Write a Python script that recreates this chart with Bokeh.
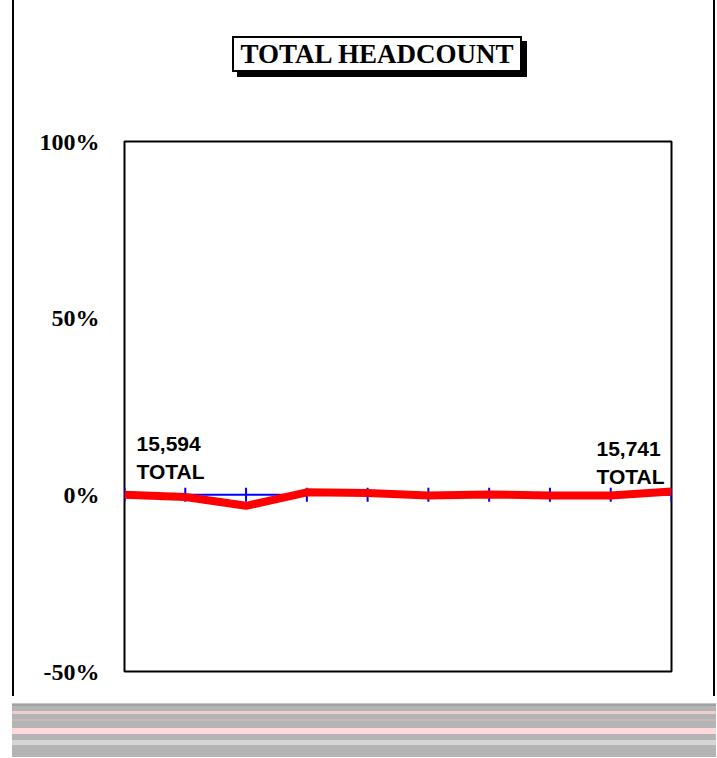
from bokeh.plotting import figure
from bokeh.models import Range1d, FixedTicker, Div
from bokeh.layouts import column
from bokeh.core.properties import value
from bokeh.embed import file_html
from bokeh.resources import INLINE

# ---- data ----
periods = [0, 1, 2, 3, 4, 5, 6, 7, 8, 9]
pct_change = [0.0, -0.6, -3.1, 0.7, 0.5, -0.2, 0.1, -0.2, -0.2, 0.94]
y_ticks = [-50, 0, 50, 100]
y_tick_labels = ["-50%", "0%", "50%", "100%"]
start_label = "15,594\nTOTAL"
end_label = "15,741\nTOTAL"
title_text = "TOTAL HEADCOUNT"

W = 716
TOP_H, FIG_H, BAND_H = 100, 596, 54
FL, FR = 124, 671          # frame left/right (px)
FT, FB = 41, 571           # frame top/bottom inside the figure (px)

SIDE_LINES = ("linear-gradient(to right, transparent 12px, black 12px, black 14px, "
              "transparent 14px, transparent 713px, black 713px, black 715px, transparent 715px)")

# ---- title block ----
title_div = Div(width=W, height=TOP_H, text=(
    '<div style="box-sizing:border-box;width:%dpx;height:%dpx;padding:36px 0 0 232px;">'
    '<div style="box-sizing:border-box;width:290px;height:36px;border:2px solid black;'
    'box-shadow:5px 5px 0 black;background:white;font-family:\'Liberation Serif\';'
    'font-weight:bold;font-size:27px;line-height:32px;text-align:center;color:black;'
    'white-space:nowrap;">%s</div></div>'
) % (W - 20, TOP_H - 4, title_text))
title_div.styles = {"margin": "0px", "background-color": "white",
                    "background-image": SIDE_LINES}

# ---- chart ----
p = figure(width=W, height=FIG_H, output_backend="svg", toolbar_location=None,
           x_range=Range1d(periods[0], periods[-1]), y_range=Range1d(-50, 100),
           x_axis_location=None, tools="",
           min_border_left=FL, min_border_right=W - FR,
           min_border_top=FT, min_border_bottom=FIG_H - FB)
p.grid.visible = False
p.outline_line_color = "black"
p.outline_line_width = 2
p.border_fill_color = None
p.background_fill_color = "white"
p.styles = {"background-color": "white", "background-image": SIDE_LINES}

ya = p.yaxis[0]
ya.ticker = FixedTicker(ticks=y_ticks)
ya.major_label_overrides = {t: l for t, l in zip(y_ticks, y_tick_labels)}
ya.major_label_text_font = "Liberation Serif"
ya.major_label_text_font_style = "bold"
ya.major_label_text_font_size = "24px"
ya.major_label_text_color = "black"
ya.axis_line_color = None
ya.major_tick_line_color = None
ya.minor_tick_line_color = None
ya.major_label_standoff = 19

# zero axis with cross ticks
zero = [0] * len(periods)
p.line(periods, zero, line_color="#0000ff", line_width=2)
p.scatter(periods, zero, marker="dash", angle=1.5708, size=14,
          line_color="#0000ff", line_width=2)

# main series
p.line(periods, pct_change, line_color="#ff0000", line_width=8)

# end labels
txt_kw = dict(text_font=value("Liberation Sans"), text_font_style="bold",
              text_font_size="21px", text_line_height=1.2, text_color="black",
              text_align="left", text_baseline="bottom")
p.text(x=[periods[0]], y=[pct_change[0]], text=[start_label],
       x_offset=12, y_offset=-12, **txt_kw)
p.text(x=[periods[-1]], y=[pct_change[-1]], text=[end_label],
       x_offset=-75, y_offset=-4, **txt_kw)

# ---- garbled table strip at the bottom ----
band = Div(width=W - 12, height=BAND_H, text=(
    '<div style="width:704px;height:%dpx;'
    'background:linear-gradient(to bottom,'
    '#d9d9d9 0px,#8f8f8f 2px,#b4b4b4 3px,#b4b4b4 8px,#ecd0d0 8px,#ecd0d0 11px,'
    '#b4b4b4 11px,#b4b4b4 16px,#c9b9b9 16px,#c9b9b9 18px,#b4b4b4 18px,#b4b4b4 25px,'
    '#ffd9d9 25px,#ffd9d9 31px,#b4b4b4 31px,#b4b4b4 37px,#d6d6d6 37px,#d6d6d6 42px,'
    '#b4b4b4 42px,#b4b4b4 %dpx);"></div>') % (BAND_H, BAND_H))
band.styles = {"margin": "7px 0px 0px 12px"}

layout = column(title_div, p, band)
open("out.html", "w").write(file_html(layout, INLINE))
